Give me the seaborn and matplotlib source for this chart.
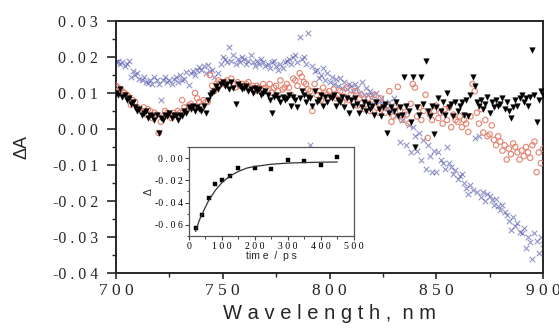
import matplotlib
matplotlib.use("Agg")
import matplotlib.pyplot as plt
import seaborn as sns
import numpy as np
import pandas as pd
from matplotlib.ticker import MultipleLocator, FuncFormatter

sns.set_theme(style="ticks")
plt.rcParams['font.family'] = ['Liberation Serif', 'DejaVu Serif']

# --- data ---
WAVELENGTH = list(range(700, 901))

BLACK = [
    .010, .0095, .011, .009, .0095, .008, .0085, .007, .0075, .006,
    .005, .0055, .004, .0045, .005, .003, .004, .0035, .0025, .004,
    -.001, .003, .0025, .004, .0035, .0045, .003, .004, .0035, .0025,
    .004, .0035, .005, .0045, .006, .0055, .0065, .005, .006, .0055,
    .005, .0065, .0045, .008, .0095, .010, .0105, .012, .011, .0125,
    .013, .012, .0125, .011, .013, .0115, .007, .0125, .012, .011,
    .0115, .012, .0105, .011, .010, .0115, .0105, .011, .0095, .010,
    .0105, .0095, .008, .0045, .009, .0095, .0085, .0075, .009, .008,
    .0085, .0095, .0065, .009, .008, .006, .0085, .0105, .0095, .0075,
    .009, .0085, .0065, .0105, .0075, .008, .0095, .0065, .009, .0075,
    .009, .0085, .0095, .0065, .008, .0075, .009, .006, .0085, .0045,
    .008, .0065, .0085, .007, .0045, .006, .0075, .005, .007, .0055,
    .0065, .004, .0075, .0055, .0035, .006, .007, -.001, .0045, .006,
    .005, .0075, .0035, .006, .004, .0145, .0065, .005, .002, .0145,
    -.005, .006, .004, .0145, .007, .019, .005, .0035, .0065, -.0015,
    .006, .0085, .005, .0075, .004, .010, .006, .007, .0035, .0075,
    .005, .0065, .0075, .004, .008, .0035, .0095, .0145, .012, .0075,
    .0065, .008, .0055, .007, .009, .0045, .0075, .006, .008, .0065,
    .007, .0085, .0055, .0075, .005, .003, .006, .008, .0065, .0085,
    .0095, .0075, .0085, .0065, .009, .022, .0095, .002, .008, .0105,
    .0095,
]

RED = [
    .012, .0115, .011, .0105, .010, .0095, .009, .0067, .008, .0075,
    .006, .0055, .005, .006, .004, .0055, .005, .003, .0045, .004,
    -.0011, .002, .0035, .005, .0045, .004, .003, .0045, .004, .005,
    .0045, .008, .006, .005, .0065, .007, .006, .010, .0085, .0075,
    .0065, .008, .0075, .0075, .015, .012, .0105, .0125, .0135, .013,
    .0125, .013, .0135, .012, .014, .0125, .0115, .013, .012, .0125,
    .012, .0125, .013, .0115, .012, .0105, .012, .0115, .011, .0125,
    .0115, .011, .0125, .010, .0115, .012, .0105, .0135, .011, .0115,
    .0125, .0115, .0095, .014, .0135, .012, .0155, .0145, .013, .0125,
    .011, .0105, .005, .0125, .0095, .0105, .008, .0115, .010, .0095,
    .0105, .009, .011, .0085, .0095, .0105, .0075, .009, .0115, .008,
    .0095, .0075, .0105, .0065, .0085, .0095, .0055, .007, .0085, .005,
    .0075, .0095, .006, .0045, .0085, .006, .0045, .0065, .0105, .002,
    .0035, .0065, .0117, .005, .0025, .006, .004, .0015, .007, .0125,
    .0115, .0035, .006, .0025, .005, .0095, -.0025, .004, .0025, .005,
    .0065, .003, .0045, .0015, .0055, .0025, .006, .0005, .004, .0025,
    .002, .0035, .0005, .0025, .0015, -.0008, .0035, .0125, .0105, .0045,
    .0015, .0055, -.001, .0025, -.002, -.0015, .001, -.003, -.0045, -.002,
    -.0035, -.006, -.0045, -.0085, -.0055, -.007, -.004, -.005, -.0065, -.0085,
    -.006, -.0075, -.005, -.0065, -.008, -.0045, -.0035, -.012, -.0065, -.0095,
    -.0055,
]

BLUE = [
    .0185, .019, .018, .0185, .0175, .018, .019, .0145, .016, .015,
    .0155, .014, .0135, .0145, .013, .0128, .0135, .0125, .0145, .0136,
    .0125, .008, .0136, .0145, .013, .0135, .0125, .014, .0145, .013,
    .015, .0135, .014, .0158, .0122, .0155, .016, .015, .0165, .0172,
    .0165, .0175, .0155, .0178, .016, .0165, .0145, .012, .0155, .018,
    .020, .0195, .0185, .0228, .019, .0205, .018, .0195, .0185, .020,
    .0195, .018, .019, .0205, .0185, .0175, .019, .018, .0195, .0185,
    .0175, .018, .017, .0185, .019, .0175, .0165, .018, .017, .0185,
    .019, .0195, .018, .020, .0205, .0185, .0256, .0195, .020, .018,
    .0267, -.0044, .0175, .016, .0165, .0142, .015, .017, .0135, .0155,
    .013, .0145, .0125, .014, .012, .0142, .0115, .013, .011, .0125,
    .012, .0105, .0125, .0115, .010, .013, .0095, .0115, .0094, .0105,
    .0095, .008, .010, .0075, .0085, .007, .0065, .0058, .0075, .005,
    .0086, .004, .006, -.0036, .0025, .004, -.0044, .001, -.0064, .0005,
    -.002, -.006, -.001, -.0085, -.003, -.011, -.0045, -.0075, -.012, -.006,
    -.012, -.0065, -.0085, -.0094, -.011, -.005, -.0095, -.0105, -.0125, -.0114,
    -.014, -.013, -.0125, -.015, -.0165, -.018, -.0155, -.017, -.0025, -.0175,
    -.002, -.019, -.0175, -.020, -.018, -.0185, -.0197, -.021, -.0195, -.0215,
    -.0225, -.021, -.023, -.024, -.0255, -.028, -.0245, -.027, -.026, -.0285,
    -.029, -.0275, -.033, -.030, -.0315, -.036, -.029, -.031, -.0345, -.030,
    -.032,
]

# inset: kinetics
T_PS = [20, 40, 60, 80, 100, 125, 150, 200, 250, 300, 350, 400, 450]
KIN = [-.063, -.051, -.036, -.023, -.020, -.016, -.009, -.009, -.010, -.002, -.003, -.006, .001]
T_FIT = [20, 30, 40, 50, 60, 80, 100, 125, 150, 175, 200, 250, 300, 350, 400, 450]
KIN_FIT = [-.066, -.057, -.050, -.044, -.038, -.029, -.022, -.016, -.012, -.009, -.0075,
           -.0055, -.0045, -.004, -.0037, -.0035]


def spaced(s):
    return " ".join(s)


fig = plt.figure(figsize=(5.59, 3.31), dpi=100)
ax = fig.add_axes([0.2075, 0.1752, 0.7639, 0.7614])

sns.scatterplot(x=WAVELENGTH, y=BLUE, ax=ax, marker='x', s=16, color='#4a4ea6',
                alpha=0.6, linewidth=0.8, zorder=2)
sns.scatterplot(x=WAVELENGTH, y=RED, ax=ax, marker='o', s=15, facecolor='none',
                edgecolor='#e4826f', linewidth=0.8, zorder=3)
sns.scatterplot(x=WAVELENGTH, y=BLACK, ax=ax, marker='v', s=16, color='black',
                edgecolor='black', linewidth=0.3, zorder=4)

ax.set_xlim(700, 900)
ax.set_ylim(-0.04, 0.03)
ax.xaxis.set_major_locator(MultipleLocator(50))
ax.xaxis.set_minor_locator(MultipleLocator(25))
ax.yaxis.set_major_locator(MultipleLocator(0.01))
ax.yaxis.set_minor_locator(MultipleLocator(0.005))
ax.xaxis.set_major_formatter(FuncFormatter(lambda v, p: spaced(f"{v:.0f}")))
ax.yaxis.set_major_formatter(FuncFormatter(lambda v, p: spaced(f"{v:.2f}").replace("- ", "-")))
ax.tick_params(which='major', direction='out', width=1.2)
ax.tick_params(axis='y', which='major', length=6.5, pad=6.5, labelsize=11.5)
ax.tick_params(axis='x', which='major', length=4, pad=3.5, labelsize=12.5)
ax.tick_params(which='minor', direction='out', length=3, width=1.0)
for sp in ax.spines.values():
    sp.set_linewidth(1.4)
ax.set_xlabel(spaced("Wavelength,") + "  " + spaced("nm"), family='Liberation Sans',
              fontsize=14.5, labelpad=3)
ax.set_ylabel("ΔA", family='Liberation Sans', fontsize=13, labelpad=16)

# inset
ins = fig.add_axes([0.338, 0.287, 0.295, 0.269])
ins.set_facecolor('white')
sns.lineplot(x=T_FIT, y=KIN_FIT, ax=ins, color='#333333', linewidth=0.9)
sns.scatterplot(x=T_PS, y=KIN, ax=ins, marker='s', s=9, color='black', edgecolor='black', linewidth=0.3)
ins.set_xlim(0, 500)
ins.set_ylim(-0.07, 0.01)
ins.xaxis.set_major_locator(MultipleLocator(100))
ins.xaxis.set_minor_locator(MultipleLocator(50))
ins.yaxis.set_major_locator(MultipleLocator(0.02))
ins.yaxis.set_minor_locator(MultipleLocator(0.01))
ins.xaxis.set_major_formatter(FuncFormatter(lambda v, p: spaced(f"{v:.0f}")))
ins.yaxis.set_major_formatter(FuncFormatter(lambda v, p: spaced(f"{v:.2f}").replace("- ", "-")))
ins.tick_params(which='major', direction='out', length=3, width=0.8, labelsize=7, pad=1.5, colors='#444444',
                labelcolor='black')
ins.tick_params(which='minor', direction='out', length=1.8, width=0.7, colors='#444444')
for sp in ins.spines.values():
    sp.set_linewidth(0.9)
    sp.set_color('#555555')
ins.set_xlabel("tim e  /  p s", family='Liberation Sans', fontsize=7.5, labelpad=0)
ins.set_ylabel("Δ", family='Liberation Sans', fontsize=7.5, labelpad=1)

fig.savefig("out.png", dpi=100)
